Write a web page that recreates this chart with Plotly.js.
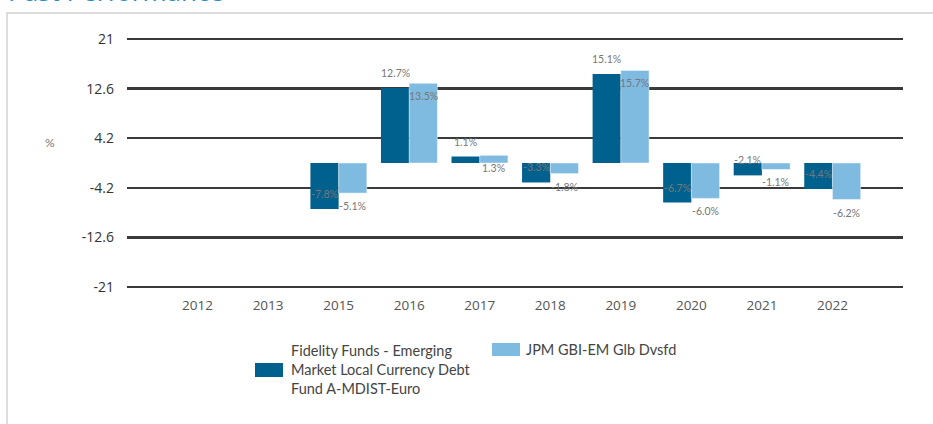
<!DOCTYPE html>
<html>
<head>
<meta charset="utf-8">
<script src="https://cdn.plot.ly/plotly-3.0.1.min.js"></script>
<style>
  html, body { margin: 0; padding: 0; background: #ffffff; }
  #chart { width: 933px; height: 424px; }
</style>
</head>
<body>
<div id="chart"></div>
<script>
// ---- Data ----
const years = ["2012", "2013", "2015", "2016", "2017", "2018", "2019", "2020", "2021", "2022"];
const fundValues = [null, null, -7.8, 12.7, 1.1, -3.3, 15.1, -6.7, -2.1, -4.4];
const indexValues = [null, null, -5.1, 13.5, 1.3, -1.8, 15.7, -6.0, -1.1, -6.2];
const seriesNames = [
  "Fidelity Funds - Emerging Market Local Currency Debt Fund A-MDIST-Euro",
  "JPM GBI-EM Glb Dvsfd"
];
const yTickVals = [21, 12.6, 4.2, -4.2, -12.6, -21];
const yTickText = ["21", "12.6", "4.2", "-4.2", "-12.6", "-21"];
const chartTitle = "Past Performance";
const yUnit = "%";

// ---- Styling ----
const W = 933, H = 424;
const M = { l: 127, r: 30, t: 35, b: 133 };
const PW = W - M.l - M.r, PH = H - M.t - M.b;
const px2x = p => (p - M.l) / PW;
const px2y = p => (H - M.b - p) / PH;

const darkBlue = "#00618f";
const lightBlue = "#7fbae1";
const tickFont = "'Open Sans', 'Noto Sans', sans-serif";
const geoFont = "Lato, 'Noto Sans', sans-serif";

function wrap(text, width) {
  const words = text.split(" ");
  const lines = [];
  let cur = "";
  words.forEach(w => {
    const cand = cur ? cur + " " + w : w;
    if (cand.length > width && cur) { lines.push(cur); cur = w; }
    else cur = cand;
  });
  if (cur) lines.push(cur);
  return lines;
}

const fmt = v => v.toFixed(1) + "%";

const traces = [
  {
    type: "bar", x: years, y: fundValues, name: seriesNames[0],
    marker: { color: darkBlue, line: { width: 0 } },
    hoverinfo: "skip"
  },
  {
    type: "bar", x: years, y: indexValues, name: seriesNames[1],
    marker: { color: lightBlue, line: { width: 1, color: "rgba(255,255,255,0.45)" } },
    hoverinfo: "skip"
  }
];

const annotations = [];
// data labels (x given as category index so numeric-looking names are not misread)
years.forEach((yr, i) => {
  if (fundValues[i] !== null) {
    annotations.push({
      x: i, y: fundValues[i], xref: "x", yref: "y",
      text: fmt(fundValues[i]), showarrow: false,
      xshift: -14, yshift: 15,
      font: { family: geoFont, size: 10.5, color: "#777777" }
    });
  }
  if (indexValues[i] !== null) {
    annotations.push({
      x: i, y: indexValues[i], xref: "x", yref: "y",
      text: fmt(indexValues[i]), showarrow: false,
      xshift: 14, yshift: -13,
      font: { family: geoFont, size: 10.5, color: "#777777" }
    });
  }
});

// y unit label
annotations.push({
  x: px2x(50), y: px2y(142), xref: "paper", yref: "paper",
  text: yUnit, showarrow: false, xanchor: "center", yanchor: "middle",
  font: { family: geoFont, size: 12, color: "#777777" }
});

// partially visible title at the top (cut off in the reference too)
annotations.push({
  x: px2x(6), y: px2y(11.5), xref: "paper", yref: "paper",
  text: chartTitle, showarrow: false, xanchor: "left", yanchor: "bottom",
  font: { family: tickFont, size: 26, color: "#2a8ac6" }
});

// custom legend
const legendLines0 = wrap(seriesNames[0], 26);
legendLines0.forEach((ln, k) => {
  annotations.push({
    x: px2x(289), y: px2y(350 + 19 * k), xref: "paper", yref: "paper",
    text: ln, showarrow: false, xanchor: "left", yanchor: "middle",
    font: { family: geoFont, size: 14.5, color: "#444444" }
  });
});
annotations.push({
  x: px2x(524), y: px2y(349), xref: "paper", yref: "paper",
  text: seriesNames[1], showarrow: false, xanchor: "left", yanchor: "middle",
  font: { family: geoFont, size: 14.5, color: "#444444" }
});

const shapes = [
  // frame
  { type: "line", xref: "paper", yref: "paper", x0: px2x(7), x1: px2x(7), y0: px2y(13), y1: px2y(440),
    line: { color: "#dddddd", width: 2 } },
  { type: "line", xref: "paper", yref: "paper", x0: px2x(6), x1: px2x(940), y0: px2y(13), y1: px2y(13),
    line: { color: "#dddddd", width: 2 } },
  // legend swatches
  { type: "rect", xref: "paper", yref: "paper", x0: px2x(255), x1: px2x(283), y0: px2y(363), y1: px2y(377),
    fillcolor: darkBlue, line: { width: 0 } },
  { type: "rect", xref: "paper", yref: "paper", x0: px2x(492), x1: px2x(520), y0: px2y(343), y1: px2y(356),
    fillcolor: lightBlue, line: { width: 0 } }
];

const layout = {
  width: W, height: H,
  margin: M,
  paper_bgcolor: "#ffffff", plot_bgcolor: "#ffffff",
  showlegend: false,
  barmode: "group", bargap: 0.2, bargroupgap: 0,
  xaxis: {
    type: "category", range: [-1, 10],
    showgrid: false, zeroline: false, showline: false, ticks: "",
    tickfont: { family: tickFont, size: 13.5, color: "#555555" },
    ticklabelstandoff: 4,
    fixedrange: true
  },
  yaxis: {
    range: [-21.7, 21.7], tickmode: "array", tickvals: yTickVals, ticktext: yTickText,
    showgrid: true, gridcolor: "#3a3a3a", gridwidth: 2.5,
    zeroline: false, showline: false, ticks: "",
    tickfont: { family: tickFont, size: 14, color: "#333333" },
    ticklabelstandoff: 12,
    fixedrange: true
  },
  annotations: annotations,
  shapes: shapes
};

Plotly.newPlot("chart", traces, layout, { displayModeBar: false, staticPlot: true });
</script>
</body>
</html>
